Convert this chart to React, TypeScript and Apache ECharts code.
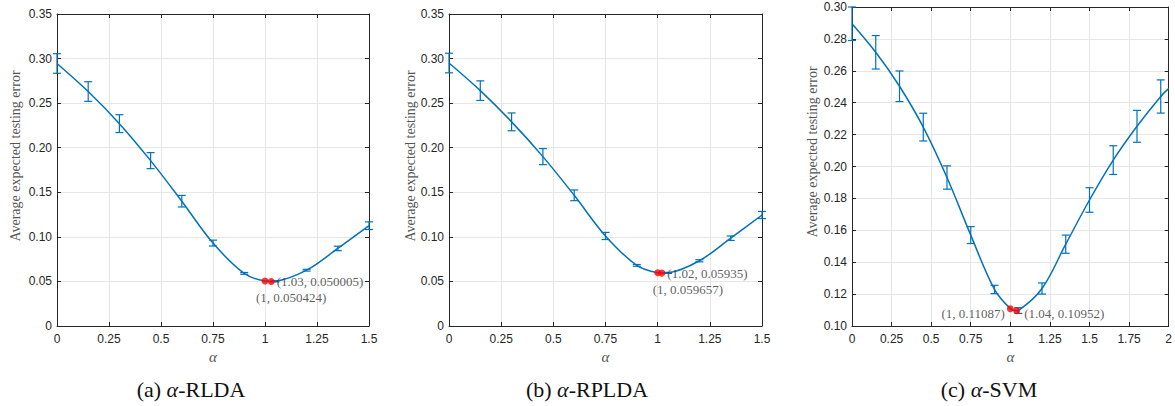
import React, { useEffect, useRef } from 'react';
import * as echarts from 'echarts';

// ---------- data ----------
const alphaAB = [0, 0.15, 0.3, 0.45, 0.6, 0.75, 0.9, 1.05, 1.2, 1.35, 1.5];
const alphaC = [0, 0.15, 0.3, 0.45, 0.6, 0.75, 0.9, 1.05, 1.2, 1.35, 1.5, 1.65, 1.8, 1.95];

const meanRLDA = [0.2945, 0.263, 0.227, 0.1855, 0.140, 0.093, 0.059, 0.0502, 0.0626, 0.087, 0.1125];
const errRLDA = [0.011, 0.011, 0.010, 0.009, 0.0065, 0.0033, 0.001, 0.0007, 0.001, 0.0025, 0.0043];
const minRLDA = [[1, 0.050424], [1.03, 0.050005]];

const meanRPLDA = [0.295, 0.264, 0.229, 0.19, 0.1466, 0.101, 0.068, 0.0596, 0.0732, 0.0985, 0.1245];
const errRPLDA = [0.011, 0.011, 0.010, 0.009, 0.006, 0.004, 0.001, 0.0006, 0.0012, 0.0025, 0.004];
const minRPLDA = [[1, 0.059657], [1.02, 0.05935]];

const meanSVM = [0.2895, 0.2716, 0.2503, 0.2247, 0.1931, 0.157, 0.1229, 0.1097, 0.1235, 0.1513, 0.179, 0.204, 0.2252, 0.2439];
const errSVM = [0.0105, 0.0105, 0.0096, 0.0087, 0.0073, 0.0053, 0.0026, 0.0018, 0.0035, 0.0057, 0.0077, 0.009, 0.010, 0.0104];
const minSVM = [[1, 0.11087], [1.04, 0.10952]];
const curveEndSVM = [[2, 0.2488]];

const captionTags = ['(a) ', '(b) ', '(c) '];
const methodNames = ['RLDA', 'RPLDA', 'SVM'];
const yTitle = 'Average expected testing error';
const xTitle = 'α';

// ---------- layout / style ----------
const BLUE = '#0072BD';
const AXIS = '#262626';
const GRID = '#e6e6e6';

const panels = [
  { alpha: alphaAB, mean: meanRLDA, err: errRLDA, mins: minRLDA, extra: [] as number[][],
    grid: { left: 57, top: 14, width: 312, height: 312 },
    x: [0, 1.5, 0.25], y: [0, 0.35, 0.05],
    labels: [
      { position: 'bottom', align: 'left', offset: [-9, 1] },
      { position: 'right', distance: 2, offset: [0, 0] },
    ],
    yLabel: [15, 156], caption: [191, 389] },
  { alpha: alphaAB, mean: meanRPLDA, err: errRPLDA, mins: minRPLDA, extra: [] as number[][],
    grid: { left: 449, top: 14, width: 313, height: 312 },
    x: [0, 1.5, 0.25], y: [0, 0.35, 0.05],
    labels: [
      { position: 'bottom', align: 'left', offset: [-5, 2] },
      { position: 'right', distance: 2, offset: [0, 0] },
    ],
    yLabel: [410, 156], caption: [587, 389] },
  { alpha: alphaC, mean: meanSVM, err: errSVM, mins: minSVM, extra: curveEndSVM,
    grid: { left: 852, top: 7, width: 318, height: 319 },
    x: [0, 2, 0.25], y: [0.1, 0.3, 0.02],
    labels: [
      { position: 'left', distance: 2, offset: [0, 5] },
      { position: 'right', distance: 4, offset: [0, 3] },
    ],
    yLabel: [812, 152], caption: [989, 389] },
];

function fmtY(v: number) {
  return Math.abs(v) < 1e-9 ? '0' : v.toFixed(2);
}
function fmtX(v: number) {
  return String(Math.round(v * 100) / 100);
}

function buildOption() {
  const grid: any[] = [];
  const xAxis: any[] = [];
  const yAxis: any[] = [];
  const series: any[] = [];
  const graphic: any[] = [];

  panels.forEach((p, i) => {
    grid.push({ ...p.grid, containLabel: false });
    const axLine = { show: true, onZero: false, lineStyle: { color: AXIS, width: 1 } };
    const axTick = { show: true, inside: true, length: 4, lineStyle: { color: AXIS, width: 1 } };
    xAxis.push({
      type: 'value', gridIndex: i, position: 'bottom', min: p.x[0], max: p.x[1], interval: p.x[2],
      axisLine: axLine, axisTick: axTick,
      axisLabel: { color: AXIS, fontFamily: 'Liberation Sans', fontSize: 12, margin: 7, formatter: fmtX },
      splitLine: { show: true, lineStyle: { color: GRID, width: 1 } },
      name: xTitle, nameLocation: 'middle', nameGap: 22,
      nameTextStyle: { fontFamily: 'Liberation Serif', fontStyle: 'italic', fontSize: 15, color: '#555' },
    });
    xAxis.push({
      type: 'value', gridIndex: i, position: 'top', min: p.x[0], max: p.x[1], interval: p.x[2],
      axisLine: axLine, axisTick: axTick, axisLabel: { show: false }, splitLine: { show: false },
    });
    yAxis.push({
      type: 'value', gridIndex: i, position: 'left', min: p.y[0], max: p.y[1], interval: p.y[2],
      axisLine: axLine, axisTick: axTick,
      axisLabel: { color: AXIS, fontFamily: 'Liberation Sans', fontSize: 12, margin: 5, formatter: fmtY },
      splitLine: { show: true, lineStyle: { color: GRID, width: 1 } },
    });
    yAxis.push({
      type: 'value', gridIndex: i, position: 'right', min: p.y[0], max: p.y[1], interval: p.y[2],
      axisLine: axLine, axisTick: axTick, axisLabel: { show: false }, splitLine: { show: false },
    });

    const curve = p.alpha.map((a, j) => [a, p.mean[j]])
      .concat(p.mins)
      .concat(p.extra)
      .sort((u, v) => u[0] - v[0]);

    series.push({
      type: 'line', xAxisIndex: 2 * i, yAxisIndex: 2 * i, data: curve,
      smooth: 0.35, showSymbol: false, symbol: 'none',
      lineStyle: { color: BLUE, width: 1.5 }, z: 3, silent: true,
    });

    series.push({
      type: 'custom', xAxisIndex: 2 * i, yAxisIndex: 2 * i,
      data: p.alpha.map((a, j) => [a, p.mean[j], p.err[j]]),
      encode: { x: 0, y: 1 },
      z: 2, silent: true,
      renderItem: (params: any, api: any) => {
        const x = api.value(0);
        const y = api.value(1);
        const e = api.value(2);
        const top = api.coord([x, y + e]);
        const bot = api.coord([x, y - e]);
        const hw = 4;
        const style = { stroke: BLUE, lineWidth: 1.2, fill: null };
        return {
          type: 'group',
          children: [
            { type: 'line', shape: { x1: top[0], y1: top[1], x2: bot[0], y2: bot[1] }, style },
            { type: 'line', shape: { x1: top[0] - hw, y1: top[1], x2: top[0] + hw, y2: top[1] }, style },
            { type: 'line', shape: { x1: bot[0] - hw, y1: bot[1], x2: bot[0] + hw, y2: bot[1] }, style },
          ],
        };
      },
    });

    series.push({
      type: 'scatter', xAxisIndex: 2 * i, yAxisIndex: 2 * i, z: 5,
      symbol: 'circle', symbolSize: 7,
      itemStyle: { color: '#ff0000' },
      data: p.mins.map((m, k) => ({
        value: m,
        label: {
          show: true,
          ...p.labels[k],
          formatter: (q: any) => `(${q.value[0]}, ${q.value[1]})`,
          fontFamily: 'Liberation Serif', fontSize: 13, color: '#333',
        },
      })),
    });

    graphic.push({
      type: 'text', x: p.yLabel[0], y: p.yLabel[1], rotation: Math.PI / 2,
      style: { text: yTitle, fontFamily: 'Liberation Serif', fontSize: 14, fill: '#555', align: 'center', verticalAlign: 'middle' },
    });
    graphic.push({
      type: 'text', x: p.caption[0], y: p.caption[1],
      style: {
        text: captionTags[i] + '{i|' + xTitle + '}-' + methodNames[i],
        fontFamily: 'Liberation Serif', fontSize: 22, fill: '#111', align: 'center', verticalAlign: 'middle',
        rich: { i: { fontFamily: 'Liberation Serif', fontStyle: 'italic', fontSize: 22, fill: '#111' } },
      },
    });
  });

  return { animation: false, backgroundColor: '#ffffff', grid, xAxis, yAxis, series, graphic };
}

export default function App() {
  const ref = useRef<HTMLDivElement>(null);
  useEffect(() => {
    if (!ref.current) return;
    const chart = echarts.init(ref.current, null, { renderer: 'svg' });
    chart.setOption(buildOption() as any);
    return () => chart.dispose();
  }, []);
  return <div ref={ref} style={{ position: 'fixed', left: 0, top: 0, width: 1175, height: 406, background: '#fff' }} />;
}
